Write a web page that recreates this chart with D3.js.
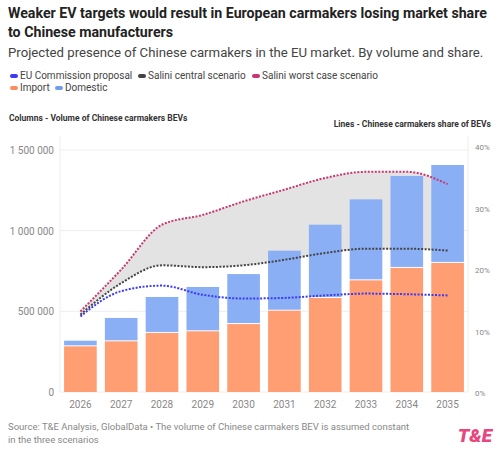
<!DOCTYPE html>
<html><head><meta charset="utf-8">
<script src="https://cdn.jsdelivr.net/npm/d3@7"></script>
<style>body{margin:0;background:#fff;font-family:Roboto,sans-serif}</style>
</head><body>
<svg id="c" width="500" height="452"></svg>
<script>
const years = ["2026","2027","2028","2029","2030","2031","2032","2033","2034","2035"];
const importVol = [283000,314000,366000,376000,421000,504000,583000,692000,769000,800000];
const totalVol = [318000,459000,589000,651000,731000,876000,1037000,1194000,1339000,1407000];
const euShare = [12.3,16.4,17.3,15.8,15.2,15.3,15.7,16.0,15.9,15.7];
const centralShare = [12.6,17.7,20.6,20.3,20.6,21.5,22.6,23.3,23.3,23.0];
const worstShare = [13.1,19.9,27.2,28.8,31.0,32.9,34.8,35.8,35.8,33.8];
const leftTicks = [0,500000,1000000,1500000];
const rightTicks = [0,10,20,30,40];

const svg = d3.select("#c");
const x = d3.scaleBand().domain(years).range([60,468]).paddingInner(0.2).paddingOuter(0.1);
const y = d3.scaleLinear().domain([0,1500000]).range([392,150]);
const yr = d3.scaleLinear().domain([0,40]).range([392,146]);
const fmt = d => d3.format(",")(d).replace(/,/g," ");

svg.append("text").attr("x",8).attr("y",18).attr("font-size",14.2).attr("font-weight",700).attr("fill","#222").text("Weaker EV targets would result in European carmakers losing market share");
svg.append("text").attr("x",8).attr("y",37).attr("font-size",14.2).attr("font-weight",700).attr("fill","#222").text("to Chinese manufacturers");
svg.append("text").attr("x",8).attr("y",57).attr("font-size",13.2).attr("fill","#444").text("Projected presence of Chinese carmakers in the EU market. By volume and share.");

const leg = [["EU Commission proposal","#3b3bf2",10,79],["Salini central scenario","#444",138,79],["Salini worst case scenario","#c8366f",252,79],["Import","#ff8c5a",10,91],["Domestic","#6f9cf0",55,91]];
leg.forEach(([t,c,lx,ly])=>{
  svg.append("rect").attr("x",lx).attr("y",ly-5).attr("width",8).attr("height",4).attr("rx",2).attr("fill",c);
  svg.append("text").attr("x",lx+10).attr("y",ly).attr("font-size",10).attr("fill","#444").text(t);
});
svg.append("text").attr("x",9).attr("y",121).attr("font-size",8.5).attr("font-weight",700).attr("fill","#333").text("Columns - Volume of Chinese carmakers BEVs");
svg.append("text").attr("x",491).attr("y",127).attr("font-size",8.5).attr("font-weight",700).attr("fill","#333").attr("text-anchor","end").text("Lines - Chinese carmakers share of BEVs");

svg.append("g").selectAll("line").data(leftTicks).join("line")
  .attr("x1",60).attr("x2",468).attr("y1",d=>y(d)).attr("y2",d=>y(d)).attr("stroke","#eee");
svg.append("line").attr("x1",60).attr("x2",60).attr("y1",136).attr("y2",392).attr("stroke","#eee");
svg.append("line").attr("x1",468).attr("x2",468).attr("y1",136).attr("y2",392).attr("stroke","#eee");
svg.append("g").selectAll("text").data(leftTicks).join("text")
  .attr("x",54).attr("y",d=>y(d)+4).attr("text-anchor","end").attr("font-size",10).attr("fill","#888").text(fmt);
svg.append("g").selectAll("text").data(rightTicks).join("text")
  .attr("x",475).attr("y",d=>yr(d)+4).attr("font-size",8).attr("fill","#888").text(d=>d+"%");

const cx = i => x(years[i])+x.bandwidth()/2;
const idx = d3.range(years.length);
svg.append("path").datum(idx).attr("fill","#e3e3e3")
  .attr("d",d3.area().curve(d3.curveMonotoneX).x(cx).y0(i=>yr(centralShare[i])).y1(i=>yr(worstShare[i])));

const bars = svg.append("g");
years.forEach((yv,i)=>{
  bars.append("rect").attr("x",x(yv)).attr("width",x.bandwidth()).attr("y",y(importVol[i])).attr("height",y(0)-y(importVol[i])).attr("fill","#ff9d73");
  bars.append("rect").attr("x",x(yv)).attr("width",x.bandwidth()).attr("y",y(totalVol[i])).attr("height",y(importVol[i])-y(totalVol[i])-1).attr("fill","#8aaff5");
});
svg.append("g").selectAll("text").data(years).join("text")
  .attr("x",d=>x(d)+x.bandwidth()/2).attr("y",408).attr("text-anchor","middle").attr("font-size",10).attr("fill","#888").text(d=>d);

[[euShare,"#3b3bf2"],[centralShare,"#444"],[worstShare,"#c8366f"]].forEach(([s,c])=>{
  svg.append("path").datum(idx).attr("fill","none").attr("stroke",c).attr("stroke-width",2).attr("stroke-dasharray","2,1.5")
    .attr("d",d3.line().curve(d3.curveMonotoneX).x(cx).y(i=>yr(s[i])));
});

svg.append("text").attr("x",8).attr("y",430).attr("font-size",9.5).attr("fill","#888").text("Source: T&E Analysis, GlobalData • The volume of Chinese carmakers BEV is assumed constant");
svg.append("text").attr("x",8).attr("y",443).attr("font-size",9.5).attr("fill","#888").text("in the three scenarios");
svg.append("text").attr("x",492).attr("y",442).attr("text-anchor","end").attr("font-size",19).attr("font-weight",900).attr("font-style","italic").attr("fill","#e8467c").text("T&E");
</script>
</body></html>
